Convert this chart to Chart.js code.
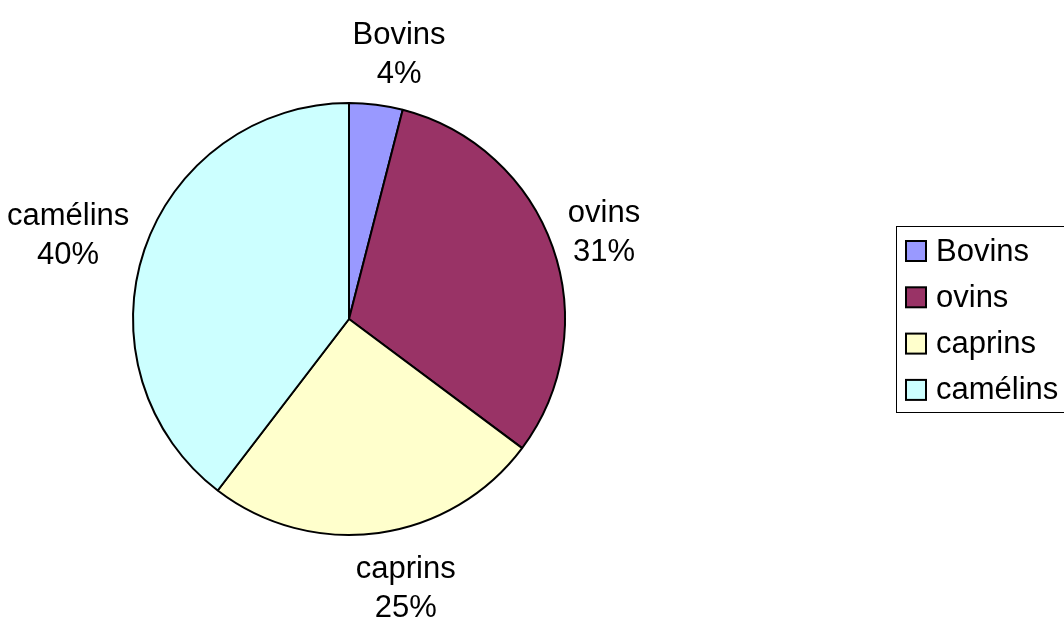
<!DOCTYPE html>
<html>
<head>
<meta charset="utf-8">
<script src="https://cdn.jsdelivr.net/npm/chart.js@4/dist/chart.umd.min.js"></script>
<style>
    html, body { margin: 0; padding: 0; background: #fff; }
    #wrap { width: 1064px; height: 619px; position: relative; }
</style>
</head>
<body>
<div id="wrap"><canvas id="pieChart"></canvas></div>
<script>
const categories = ['Bovins', 'ovins', 'caprins', 'camélins'];
const shares = [4.0, 31.2, 25.2, 39.6];

const sliceColors = ['#9999FF', '#993366', '#FFFFCC', '#CCFFFF'];
const fontFamily = '"Liberation Sans", Arial, sans-serif';

// labels outside each slice, like Excel's "outside end"
const sliceLabels = {
    id: 'sliceLabels',
    afterDatasetsDraw(chart){
        const ctx = chart.ctx;
        const meta = chart.getDatasetMeta(0);
        const total = shares.reduce((a, b) => a + b, 0);
        ctx.save();
        ctx.font = '31px ' + fontFamily;
        ctx.fillStyle = '#000';
        ctx.textAlign = 'center';
        ctx.textBaseline = 'middle';
        const lineH = 39;
        meta.data.forEach((arc, i) => {
            const mid = (arc.startAngle + arc.endAngle) / 2;
            const cx = arc.x, cy = arc.y, r = arc.outerRadius + 16;
            const lines = [categories[i], Math.round(shares[i] / total * 100) + '%'];
            const hw = Math.max(...lines.map(l => ctx.measureText(l).width)) / 2;
            const hh = lineH;
            const cosA = Math.cos(mid), sinA = Math.sin(mid);
            const f = Math.min(1, Math.abs(cosA) * 3.6);
            const x = cx + r * cosA + Math.sign(cosA) * hw * f;
            const y = cy + r * sinA + sinA * hh * 0.95 + 3;
            ctx.fillText(lines[0], x, y - lineH / 2);
            ctx.fillText(lines[1], x, y + lineH / 2);
        });
        ctx.restore();
    }
};

const sideLegend = {
    id: 'sideLegend',
    afterDraw(chart){
        const ctx = chart.ctx;
        ctx.save();
        ctx.strokeStyle = '#000';
        ctx.lineWidth = 1;
        ctx.strokeRect(896.5, 226.5, 200, 186);
        ctx.font = '31px ' + fontFamily;
        ctx.textBaseline = 'middle';
        categories.forEach((name, i) => {
            const y = 251 + i * 46.3;
            ctx.fillStyle = sliceColors[i];
            ctx.fillRect(906, y - 10, 20, 20);
            ctx.lineWidth = 2;
            ctx.strokeStyle = '#000';
            ctx.strokeRect(906, y - 10, 20, 20);
            ctx.fillStyle = '#000';
            ctx.fillText(name, 936, y + 1);
        });
        ctx.restore();
    }
};

const pieChart = new Chart(document.getElementById('pieChart'), {
    type: 'pie',
    data: {
        labels: categories,
        datasets: [{
            data: shares,
            backgroundColor: sliceColors,
            borderColor: '#000',
            borderWidth: 2
        }]
    },
    options: {
        responsive: true,
        maintainAspectRatio: false,
        animation: false,
        layout: {
            padding: { left: 132, top: 102, right: 498, bottom: 83 }
        },
        plugins: {
            legend: { display: false },
            tooltip: { enabled: false }
        }
    },
    plugins: [sliceLabels, sideLegend]
});
</script>
</body>
</html>
